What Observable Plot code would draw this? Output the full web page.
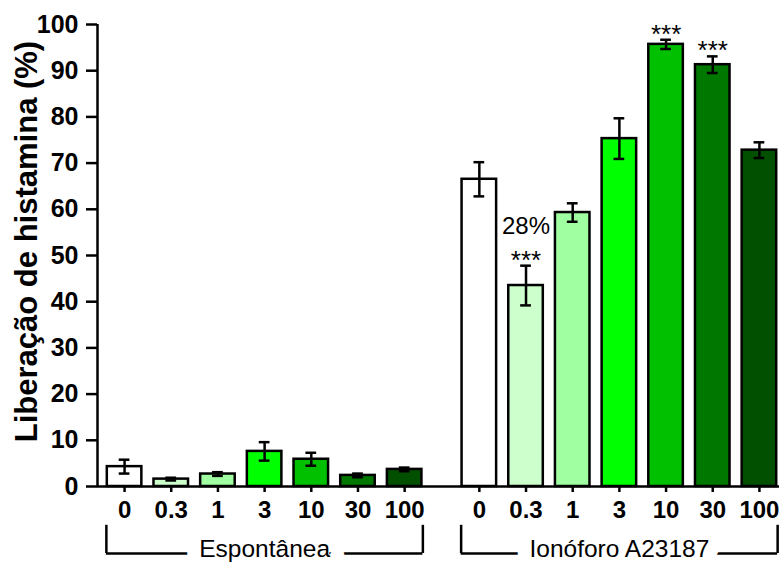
<!DOCTYPE html>
<html>
<head>
<meta charset="utf-8">
<script src="https://cdn.jsdelivr.net/npm/d3@7"></script>
<script src="https://cdn.jsdelivr.net/npm/@observablehq/plot@0.6"></script>
<style>
  html, body { margin: 0; padding: 0; background: #fff; }
  #chart svg { display: block; }
</style>
</head>
<body>
<div id="chart"></div>
<script>
// Histamine release (%) by concentration, spontaneous vs. ionophore-stimulated
const doses = ["0", "0.3", "1", "3", "10", "30", "100"];
const spontaneous = [4.3, 1.6, 2.7, 7.6, 5.9, 2.4, 3.7];
const spontaneousSem = [1.5, 0.3, 0.4, 2.0, 1.4, 0.4, 0.4];
const ionophore = [66.5, 43.5, 59.3, 75.3, 95.7, 91.3, 72.8];
const ionophoreSem = [3.7, 4.3, 2.0, 4.4, 1.0, 1.8, 1.7];
const barColors = ["#ffffff", "#ccffcc", "#a0ffa0", "#00ff00", "#00c000", "#007800", "#005000"];
const groupNames = ["Espontânea", "Ionóforo A23187"];
const starredIonophore = [1, 4, 5];            // indices marked ***
const reductionLabel = {index: 1, text: "28%"}; // inhibition at 0.3
const yTicks = [0, 10, 20, 30, 40, 50, 60, 70, 80, 90, 100];
const yTitle = "Liberação de histamina (%)";

// slot layout: one slot per bar, a wider step between the two groups
const groupStep = 1.6;
const halfBar = 0.37;
const halfCap = 0.115;
const xDomain = [-0.58, 14.03];

const groups = [
  {name: groupNames[0], values: spontaneous, sem: spontaneousSem, offset: 0},
  {name: groupNames[1], values: ionophore, sem: ionophoreSem, offset: doses.length - 1 + groupStep}
];

const rows = groups.flatMap(g => doses.map((dose, i) => ({
  group: g.name, dose, i, pos: g.offset + i,
  value: g.values[i], sem: g.sem[i], color: barColors[i]
})));

const caps = rows.flatMap(d => [
  {pos: d.pos, y: d.value - d.sem},
  {pos: d.pos, y: d.value + d.sem}
]);

const ionRows = rows.filter(d => d.group === groupNames[1]);
const stars = ionRows.filter(d => starredIonophore.includes(d.i));
const pctRow = ionRows.filter(d => d.i === reductionLabel.index);

const tickLabel = new Map(rows.map(d => [d.pos, d.dose]));

const brackets = groups.map(g => ({
  name: g.name,
  x1: g.offset - halfBar - 0.02,
  x2: g.offset + doses.length - 1 + halfBar + 0.02,
  mid: g.offset + (doses.length - 1) / 2
}));
const bracketTop = -8.4;
const bracketBottom = -14.5;

const font = "'Liberation Sans', Arial, Helvetica, sans-serif";

const chart = Plot.plot({
  width: 779,
  height: 564,
  marginTop: 24,
  marginBottom: 78,
  marginLeft: 97,
  marginRight: 0,
  style: {fontFamily: font, background: "#fff", color: "#000", overflow: "visible"},
  x: {type: "linear", domain: xDomain, axis: null},
  y: {domain: [0, 100], axis: null},
  marks: [
    // bars
    Plot.rectY(rows, {
      x1: d => d.pos - halfBar, x2: d => d.pos + halfBar,
      y1: 0, y2: "value",
      fill: "color", stroke: "#000", strokeWidth: 2.5
    }),
    // error bars (mean ± SEM)
    Plot.ruleX(rows, {
      x: "pos", y1: d => d.value - d.sem, y2: d => d.value + d.sem,
      stroke: "#000", strokeWidth: 2.5
    }),
    Plot.ruleY(caps, {
      y: "y", x1: d => d.pos - halfCap, x2: d => d.pos + halfCap,
      stroke: "#000", strokeWidth: 2.5
    }),
    // axes
    Plot.ruleY([0], {stroke: "#000", strokeWidth: 2.5}),
    Plot.ruleX([xDomain[0]], {y1: 0, y2: 100, stroke: "#000", strokeWidth: 2.5}),
    Plot.axisY({
      ticks: yTicks, tickSize: 11, tickPadding: 8,
      fontSize: 25, fontWeight: "bold", strokeWidth: 2.5, label: null
    }),
    Plot.axisX({
      ticks: rows.map(d => d.pos), tickFormat: d => tickLabel.get(d),
      tickSize: 6, tickPadding: 8,
      fontSize: 24, fontWeight: "bold", strokeWidth: 2.5, label: null
    }),
    Plot.text([yTitle], {
      text: d => d, frameAnchor: "left", textAnchor: "middle", rotate: -90,
      lineAnchor: "bottom", dx: -61, dy: -14,
      fontSize: 31, fontWeight: "bold"
    }),
    // significance and inhibition annotations
    Plot.text(stars, {
      x: "pos", y: d => d.value + d.sem, text: () => "***",
      lineAnchor: "bottom", dy: 3, fontSize: 26
    }),
    Plot.text(pctRow, {
      x: "pos", y: d => d.value + d.sem, text: () => reductionLabel.text,
      lineAnchor: "bottom", dy: -32, fontSize: 24
    }),
    // group brackets
    Plot.ruleX(brackets.flatMap(b => [{x: b.x1}, {x: b.x2}]), {
      x: "x", y1: bracketTop, y2: bracketBottom, stroke: "#000", strokeWidth: 2.5
    }),
    Plot.ruleY(brackets, {
      y: bracketBottom, x1: "x1", x2: "x2", stroke: "#000", strokeWidth: 2.5
    }),
    Plot.text(brackets, {
      x: "mid", y: bracketBottom, text: "name",
      lineAnchor: "bottom", dy: 4, fontSize: 24.5,
      stroke: "#fff", strokeWidth: 28, strokeLinejoin: "round", fill: "#000"
    })
  ]
});

document.getElementById("chart").appendChild(chart);
</script>
</body>
</html>
